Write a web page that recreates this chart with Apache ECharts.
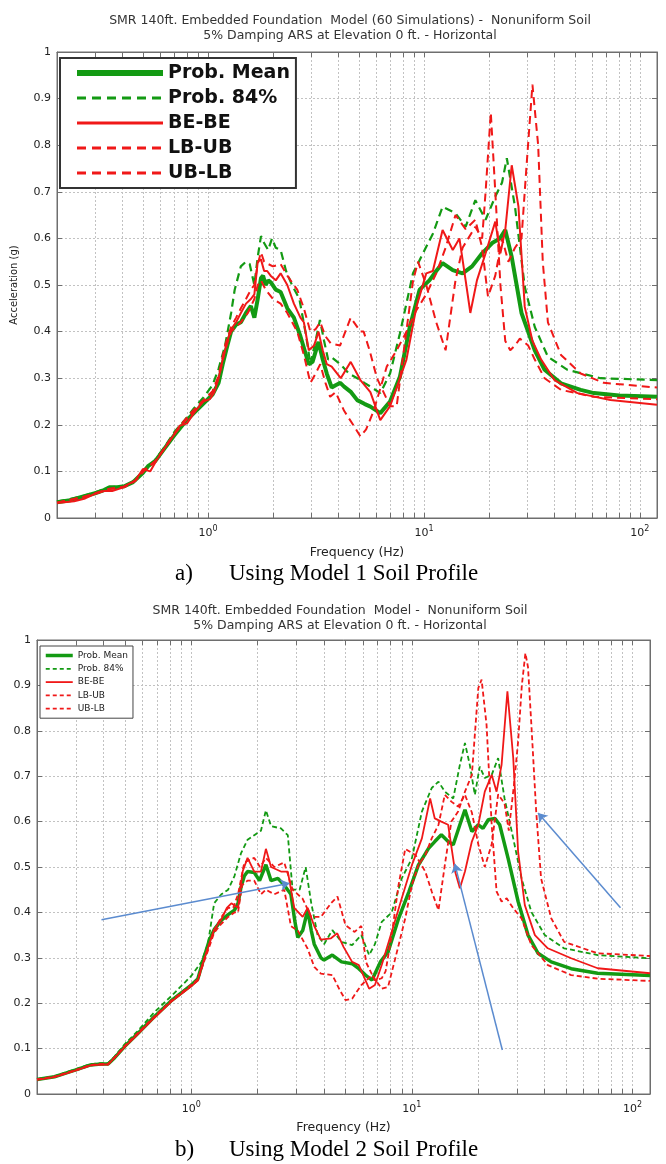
<!DOCTYPE html>
<html>
<head>
<meta charset="utf-8">
<script src="https://cdn.jsdelivr.net/npm/echarts@6/dist/echarts.min.js"></script>
<style>
  html, body { margin: 0; padding: 0; background: #fff; }
  #chart { width: 666px; height: 1164px; }
</style>
</head>
<body>
<div id="chart"></div>
<script>
// ---- Response spectra, Model 1 soil profile: [frequency Hz, acceleration g] ----
const meanA = [[0.2,0.034],[0.23,0.038],[0.26,0.045],[0.3,0.053],[0.33,0.06],[0.35,0.066],[0.38,0.066],[0.41,0.068],[0.45,0.077],[0.5,0.097],[0.53,0.112],[0.57,0.122],[0.62,0.145],[0.7,0.178],[0.78,0.205],[0.86,0.225],[0.95,0.245],[1.05,0.265],[1.12,0.29],[1.17,0.33],[1.23,0.37],[1.28,0.4],[1.35,0.415],[1.42,0.42],[1.5,0.44],[1.58,0.455],[1.64,0.43],[1.7,0.47],[1.76,0.515],[1.8,0.52],[1.85,0.5],[1.9,0.51],[1.96,0.505],[2.06,0.49],[2.17,0.485],[2.33,0.45],[2.5,0.43],[2.68,0.39],[2.93,0.33],[3.05,0.335],[3.25,0.378],[3.4,0.34],[3.55,0.31],[3.74,0.28],[3.9,0.285],[4.1,0.29],[4.27,0.282],[4.6,0.27],[4.91,0.253],[5.3,0.245],[5.65,0.239],[6.28,0.225],[6.97,0.25],[7.74,0.303],[8.6,0.41],[9.55,0.49],[10.6,0.51],[11.4,0.53],[12.2,0.547],[13.6,0.532],[15.1,0.525],[16.7,0.54],[18.6,0.568],[20.7,0.59],[22.5,0.6],[23.8,0.618],[25.5,0.56],[28.3,0.44],[32.6,0.36],[36.2,0.318],[43.1,0.289],[53.2,0.275],[61.2,0.268],[80,0.263],[120,0.26]];
const p84A = [[0.2,0.035],[0.26,0.046],[0.3,0.055],[0.35,0.066],[0.41,0.068],[0.46,0.08],[0.51,0.105],[0.57,0.125],[0.62,0.148],[0.7,0.185],[0.78,0.21],[0.86,0.235],[0.95,0.258],[1.05,0.285],[1.12,0.32],[1.2,0.37],[1.28,0.44],[1.33,0.49],[1.42,0.54],[1.5,0.55],[1.56,0.545],[1.64,0.5],[1.7,0.56],[1.76,0.605],[1.82,0.59],[1.9,0.575],[1.98,0.6],[2.06,0.58],[2.17,0.575],[2.3,0.53],[2.45,0.5],[2.65,0.47],[2.85,0.39],[2.98,0.33],[3.15,0.38],[3.3,0.425],[3.45,0.38],[3.6,0.34],[3.74,0.345],[4.1,0.33],[4.5,0.31],[4.91,0.3],[5.3,0.29],[5.65,0.282],[6.28,0.268],[6.97,0.31],[7.74,0.396],[8.9,0.525],[9.9,0.568],[11.0,0.61],[12.2,0.668],[14.0,0.654],[15.6,0.625],[17.3,0.682],[19.3,0.64],[21.4,0.69],[23.0,0.72],[24.2,0.772],[26.4,0.668],[29.3,0.496],[32.6,0.41],[37.5,0.346],[46.2,0.318],[65.7,0.3],[120,0.296]];
const beA = [[0.2,0.032],[0.24,0.036],[0.27,0.042],[0.3,0.052],[0.33,0.058],[0.36,0.058],[0.4,0.065],[0.46,0.08],[0.5,0.105],[0.54,0.1],[0.58,0.125],[0.62,0.145],[0.7,0.18],[0.74,0.198],[0.8,0.203],[0.86,0.225],[0.95,0.25],[1.02,0.255],[1.07,0.27],[1.12,0.3],[1.17,0.34],[1.23,0.38],[1.28,0.405],[1.35,0.42],[1.42,0.44],[1.5,0.46],[1.58,0.47],[1.64,0.48],[1.7,0.55],[1.76,0.555],[1.82,0.53],[1.88,0.53],[1.95,0.52],[2.06,0.51],[2.17,0.525],[2.33,0.5],[2.5,0.46],[2.68,0.43],[2.78,0.42],[2.93,0.36],[3.1,0.37],[3.25,0.4],[3.4,0.36],[3.55,0.33],[3.74,0.325],[4.12,0.3],[4.58,0.335],[5.08,0.296],[5.65,0.27],[6.28,0.21],[6.97,0.24],[7.48,0.28],[8.3,0.34],[9.23,0.453],[10.25,0.525],[11.0,0.53],[12.2,0.618],[13.6,0.575],[14.6,0.6],[15.6,0.51],[16.4,0.44],[17.6,0.51],[19.3,0.568],[21.4,0.636],[22.6,0.568],[23.8,0.618],[25.5,0.757],[27.4,0.668],[29.3,0.453],[31.8,0.38],[34.9,0.34],[40.2,0.296],[51.4,0.268],[73,0.253],[120,0.243]];
const lbubA = [[0.2,0.033],[0.26,0.044],[0.3,0.053],[0.35,0.063],[0.41,0.067],[0.46,0.08],[0.51,0.104],[0.57,0.122],[0.62,0.146],[0.7,0.182],[0.78,0.21],[0.86,0.232],[0.95,0.252],[1.05,0.272],[1.12,0.305],[1.2,0.37],[1.28,0.41],[1.35,0.43],[1.42,0.45],[1.5,0.47],[1.58,0.49],[1.64,0.5],[1.7,0.545],[1.76,0.57],[1.82,0.55],[1.9,0.545],[2.0,0.54],[2.17,0.545],[2.33,0.52],[2.59,0.49],[2.78,0.45],[2.98,0.4],[3.15,0.405],[3.31,0.42],[3.5,0.39],[3.7,0.375],[4.09,0.37],[4.58,0.43],[5.08,0.4],[5.26,0.4],[5.6,0.36],[6.06,0.3],[6.5,0.27],[6.97,0.24],[7.48,0.24],[8.02,0.35],[8.91,0.51],[9.39,0.55],[10.25,0.5],[11.4,0.42],[12.6,0.36],[14.0,0.51],[15.1,0.58],[17.3,0.625],[18.6,0.6],[19.3,0.7],[20.4,0.87],[21.4,0.7],[22.6,0.5],[23.8,0.38],[25.1,0.36],[26.4,0.37],[27.8,0.385],[30.4,0.37],[32.6,0.34],[36.2,0.3],[43.1,0.275],[61.2,0.26],[120,0.255]];
const ublbA = [[0.2,0.033],[0.26,0.044],[0.3,0.052],[0.35,0.062],[0.41,0.066],[0.46,0.079],[0.51,0.103],[0.57,0.121],[0.62,0.145],[0.7,0.18],[0.78,0.207],[0.86,0.228],[0.95,0.25],[1.05,0.27],[1.12,0.3],[1.2,0.36],[1.28,0.4],[1.35,0.41],[1.42,0.42],[1.53,0.44],[1.64,0.47],[1.7,0.5],[1.76,0.51],[1.85,0.49],[2.0,0.47],[2.17,0.46],[2.33,0.44],[2.59,0.4],[2.78,0.35],[2.98,0.29],[3.15,0.31],[3.31,0.33],[3.5,0.29],[3.68,0.26],[3.9,0.27],[4.27,0.23],[4.7,0.2],[5.08,0.175],[5.4,0.19],[5.85,0.23],[6.3,0.28],[6.73,0.325],[7.48,0.36],[8.3,0.4],[9.23,0.446],[10.25,0.48],[11.4,0.525],[12.6,0.58],[14.0,0.65],[15.6,0.62],[17.3,0.64],[18.6,0.58],[19.8,0.475],[21.4,0.52],[23.0,0.6],[24.6,0.55],[26.4,0.58],[28.3,0.6],[29.8,0.75],[31.8,0.93],[33.8,0.8],[35.5,0.55],[37.5,0.42],[43.1,0.35],[53.2,0.31],[68,0.29],[120,0.28]];

// ---- Response spectra, Model 2 soil profile ----
const meanB = [[0.2,0.032],[0.24,0.038],[0.27,0.046],[0.3,0.053],[0.35,0.064],[0.39,0.066],[0.42,0.066],[0.45,0.08],[0.5,0.105],[0.57,0.132],[0.68,0.17],[0.81,0.205],[1.0,0.24],[1.07,0.253],[1.15,0.305],[1.21,0.34],[1.27,0.362],[1.37,0.383],[1.47,0.395],[1.57,0.405],[1.63,0.42],[1.68,0.455],[1.74,0.48],[1.8,0.49],[1.93,0.488],[2.04,0.47],[2.18,0.505],[2.3,0.47],[2.47,0.475],[2.64,0.46],[2.83,0.44],[2.95,0.38],[3.04,0.345],[3.2,0.36],[3.37,0.405],[3.5,0.36],[3.61,0.33],[3.87,0.3],[4.0,0.295],[4.36,0.306],[4.8,0.291],[5.36,0.287],[5.75,0.276],[6.16,0.262],[6.6,0.251],[7.2,0.291],[7.8,0.313],[8.71,0.387],[9.7,0.446],[10.7,0.504],[11.9,0.541],[12.7,0.556],[13.6,0.571],[14.6,0.556],[15.4,0.549],[16.5,0.593],[17.4,0.626],[18.7,0.578],[20.0,0.593],[21.0,0.585],[22.2,0.604],[23.8,0.607],[25.0,0.593],[27.3,0.519],[30.3,0.424],[33.6,0.35],[37.3,0.31],[42.8,0.291],[52.7,0.276],[69.5,0.266],[120,0.261]];
const p84B = [[0.2,0.033],[0.24,0.039],[0.3,0.055],[0.35,0.066],[0.39,0.068],[0.42,0.068],[0.45,0.083],[0.5,0.11],[0.57,0.138],[0.68,0.18],[0.81,0.215],[1.0,0.26],[1.11,0.29],[1.19,0.33],[1.27,0.42],[1.37,0.44],[1.47,0.45],[1.57,0.48],[1.68,0.53],[1.8,0.56],[1.93,0.57],[2.07,0.58],[2.18,0.625],[2.3,0.59],[2.55,0.585],[2.74,0.57],[2.88,0.45],[3.1,0.45],[3.3,0.5],[3.5,0.42],[3.74,0.35],[4.0,0.33],[4.36,0.361],[4.8,0.335],[5.36,0.328],[5.9,0.35],[6.4,0.306],[6.8,0.33],[7.3,0.379],[8.1,0.4],[9.0,0.475],[10.0,0.519],[11.1,0.622],[12.3,0.674],[13.2,0.688],[14.1,0.666],[15.4,0.651],[16.5,0.725],[17.4,0.773],[18.3,0.725],[19.3,0.659],[20.3,0.721],[21.4,0.696],[23.0,0.703],[24.6,0.74],[26.3,0.651],[28.8,0.563],[31.4,0.475],[34.8,0.401],[40,0.35],[48.9,0.321],[69.5,0.306],[120,0.299]];
const beB = [[0.2,0.031],[0.24,0.037],[0.3,0.052],[0.35,0.063],[0.39,0.065],[0.42,0.065],[0.45,0.08],[0.5,0.104],[0.57,0.131],[0.68,0.168],[0.81,0.203],[1.0,0.237],[1.07,0.25],[1.15,0.3],[1.27,0.362],[1.37,0.385],[1.45,0.41],[1.52,0.42],[1.63,0.41],[1.71,0.49],[1.8,0.52],[1.93,0.49],[2.07,0.49],[2.18,0.54],[2.3,0.5],[2.55,0.49],[2.74,0.49],[2.93,0.41],[3.2,0.39],[3.37,0.41],[3.61,0.37],[3.87,0.34],[4.3,0.343],[4.59,0.354],[4.9,0.324],[5.36,0.291],[5.75,0.284],[6.4,0.232],[6.8,0.24],[7.3,0.284],[8.1,0.357],[9.0,0.431],[10,0.504],[11.1,0.563],[12.1,0.651],[12.7,0.607],[13.6,0.6],[14.6,0.593],[15.7,0.49],[16.5,0.453],[17.4,0.49],[18.7,0.556],[20,0.593],[21.4,0.666],[23,0.703],[24.2,0.666],[25.5,0.725],[27.1,0.887],[28.8,0.74],[30.3,0.534],[32.5,0.416],[36.1,0.35],[41.3,0.321],[52.7,0.299],[69.5,0.277],[120,0.266]];
const lbubB = [[0.2,0.032],[0.24,0.038],[0.3,0.053],[0.35,0.064],[0.39,0.066],[0.42,0.066],[0.45,0.081],[0.5,0.106],[0.57,0.133],[0.68,0.17],[0.81,0.205],[1.0,0.24],[1.07,0.252],[1.15,0.3],[1.27,0.36],[1.37,0.39],[1.47,0.41],[1.55,0.41],[1.63,0.44],[1.74,0.51],[1.93,0.52],[2.05,0.5],[2.18,0.52],[2.38,0.5],[2.64,0.51],[2.88,0.45],[3.2,0.43],[3.5,0.39],[3.87,0.39],[4.3,0.42],[4.6,0.435],[5.0,0.372],[5.5,0.357],[5.9,0.37],[6.2,0.29],[6.8,0.25],[7.3,0.255],[7.6,0.27],[8.1,0.35],[8.7,0.46],[9.33,0.54],[10.4,0.526],[11.5,0.49],[12.3,0.446],[13.2,0.405],[14.1,0.504],[15.1,0.6],[16.2,0.622],[17.4,0.666],[18.7,0.703],[20.0,0.894],[20.7,0.913],[21.8,0.813],[23.0,0.593],[24.2,0.446],[25.5,0.424],[26.9,0.431],[28.8,0.409],[31.4,0.387],[34.8,0.328],[41.3,0.284],[52.7,0.262],[69.5,0.254],[120,0.249]];
const ublbB = [[0.2,0.032],[0.24,0.038],[0.3,0.052],[0.35,0.063],[0.39,0.065],[0.42,0.065],[0.45,0.08],[0.5,0.105],[0.57,0.132],[0.68,0.169],[0.81,0.204],[1.0,0.238],[1.07,0.25],[1.15,0.295],[1.27,0.355],[1.37,0.375],[1.47,0.39],[1.57,0.4],[1.63,0.4],[1.7,0.46],[1.8,0.47],[1.93,0.47],[2.07,0.44],[2.18,0.45],[2.38,0.44],[2.64,0.45],[2.83,0.37],[3.04,0.36],[3.37,0.32],[3.61,0.28],[3.87,0.265],[4.36,0.262],[4.7,0.23],[5.0,0.207],[5.36,0.21],[5.9,0.24],[6.6,0.262],[7.3,0.232],[7.8,0.236],[8.71,0.328],[9.33,0.387],[10.0,0.46],[10.7,0.504],[11.5,0.526],[12.3,0.563],[13.2,0.593],[14.1,0.659],[15.1,0.644],[16.2,0.633],[17.4,0.659],[18.7,0.62],[20.0,0.55],[21.4,0.5],[23.0,0.55],[24.6,0.66],[26.3,0.64],[27.5,0.58],[29.0,0.68],[30.3,0.776],[31.5,0.9],[32.7,0.971],[33.6,0.94],[34.8,0.813],[36.6,0.622],[38.5,0.475],[42.8,0.387],[49,0.335],[69.5,0.31],[120,0.304]];

// Annotation arrows on the Model 2 plot: [tail, head] in [Hz, g]
const arrowsB = [
  [[0.392, 0.384], [2.79, 0.464]],
  [[25.7, 0.097], [15.65, 0.507]],
  [[88.2, 0.41], [37.3, 0.619]]
];

// Axis ticks
const seriesNames = ['Prob. Mean', 'Prob. 84%', 'BE-BE', 'LB-UB', 'UB-LB'];
const gridFreqs = [0.3,0.4,0.5,0.6,0.7,0.8,0.9,1,2,3,4,5,6,7,8,9,10,20,30,40,50,60,70,80,90,100];
const decadeFreqs = [1, 10, 100];
const freqRange = [0.2, 120];

const titleA = ['SMR 140ft. Embedded Foundation  Model (60 Simulations) -  Nonuniform Soil',
                '5% Damping ARS at Elevation 0 ft. - Horizontal'];
const titleB = ['SMR 140ft. Embedded Foundation  Model -  Nonuniform Soil',
                '5% Damping ARS at Elevation 0 ft. - Horizontal'];
const captions = [['a)', 'Using Model 1 Soil Profile'], ['b)', 'Using Model 2 Soil Profile']];

const GREEN = '#139a13';
const RED = '#f01818';
const AXIS = '#6e6e6e';
const GRIDC = '#c2c2c2';
const FONT = 'DejaVu Sans';

const gridsBox = [
  { left: 57, top: 52, width: 600, height: 466 },
  { left: 37, top: 640, width: 613, height: 454 }
];

function xAxesFor(gi, nameGap) {
  const base = {
    gridIndex: gi, type: 'log', logBase: 10,
    min: freqRange[0], max: freqRange[1],
    axisLine: { show: true, onZero: false, lineStyle: { color: AXIS, width: 1 } },
    axisTick: { show: true, inside: true, length: 5, customValues: gridFreqs, lineStyle: { color: AXIS } },
    minorTick: { show: false },
    minorSplitLine: { show: false }
  };
  return [
    Object.assign({}, base, {
      position: 'bottom',
      splitLine: { show: true, lineStyle: { color: GRIDC, type: [2, 2], width: 1 } },
      axisLabel: {
        customValues: decadeFreqs, margin: 7,
        formatter: v => '{b|10}{s|' + Math.round(Math.log10(v)) + '}',
        rich: {
          b: { fontFamily: FONT, fontSize: 11, color: '#222', lineHeight: 16 },
          s: { fontFamily: FONT, fontSize: 8, color: '#222', lineHeight: 8, verticalAlign: 'top' }
        }
      },
      name: 'Frequency (Hz)', nameLocation: 'middle', nameGap: nameGap,
      nameTextStyle: { fontFamily: FONT, fontSize: 12.5, color: '#222' }
    }),
    Object.assign({}, base, {
      position: 'top',
      splitLine: { show: false },
      axisLabel: { show: false }
    })
  ];
}

function yAxesFor(gi, withName) {
  const base = {
    gridIndex: gi, type: 'value', min: 0, max: 1, interval: 0.1,
    axisLine: { show: true, onZero: false, lineStyle: { color: AXIS, width: 1 } },
    axisTick: { show: true, inside: true, length: 5, lineStyle: { color: AXIS } }
  };
  const left = Object.assign({}, base, {
    position: 'left',
    splitLine: { show: true, lineStyle: { color: GRIDC, type: [2, 2], width: 1 } },
    axisLabel: { fontFamily: FONT, fontSize: 11, color: '#222', margin: 6 }
  });
  if (withName) {
    Object.assign(left, {
      name: 'Acceleration (g)', nameLocation: 'middle', nameGap: 38,
      nameTextStyle: { fontFamily: FONT, fontSize: 10, color: '#222' }
    });
  }
  return [left, Object.assign({}, base, {
    position: 'right', splitLine: { show: false }, axisLabel: { show: false }
  })];
}

function lineSeries(gi, name, data, color, width, dash) {
  return {
    type: 'line', name: name, data: data,
    xAxisIndex: gi * 2, yAxisIndex: gi * 2,
    symbol: 'none', showSymbol: false, clip: true,
    lineStyle: { color: color, width: width, type: dash || 'solid' },
    itemStyle: { color: color },
    emphasis: { disabled: true },
    animation: false
  };
}

const dashA = [8, 5];
const dashB = [5, 3];

const series = [
  lineSeries(0, seriesNames[0], meanA, GREEN, 4),
  lineSeries(0, seriesNames[1], p84A, GREEN, 2.2, dashA),
  lineSeries(0, seriesNames[2], beA, RED, 2),
  lineSeries(0, seriesNames[3], lbubA, RED, 2, dashA),
  lineSeries(0, seriesNames[4], ublbA, RED, 2, dashA),
  lineSeries(1, seriesNames[0], meanB, GREEN, 3.5),
  lineSeries(1, seriesNames[1], p84B, GREEN, 1.8, dashB),
  lineSeries(1, seriesNames[2], beB, RED, 1.8),
  lineSeries(1, seriesNames[3], lbubB, RED, 1.8, dashB),
  lineSeries(1, seriesNames[4], ublbB, RED, 1.8, dashB)
];

// blue annotation arrows on the second plot
series[5].markLine = {
  silent: true, animation: false,
  symbol: ['none', 'arrow'], symbolSize: 9,
  label: { show: false },
  lineStyle: { color: '#5b8bcf', width: 1.5, type: 'solid' },
  itemStyle: { color: '#5b8bcf' },
  emphasis: { disabled: true },
  data: arrowsB.map(a => [{ coord: a[0] }, { coord: a[1] }])
};

function legendData(widths, dash) {
  return seriesNames.map((n, i) => ({
    name: n,
    lineStyle: { width: widths[i], type: (i === 1 || i >= 3) ? dash : 'solid' }
  }));
}

const legends = [
  {
    left: 60, top: 58, orient: 'vertical', selectedMode: false,
    data: legendData([6, 3, 3, 3, 3], [9, 6]),
    itemWidth: 86, itemHeight: 14, itemGap: 5,
    padding: [5, 6, 5, 14],
    borderColor: '#333', borderWidth: 2, backgroundColor: '#fff',
    itemStyle: { opacity: 0 },
    textStyle: { fontFamily: FONT, fontWeight: 'bold', fontSize: 19, color: '#111', lineHeight: 20 }
  },
  {
    left: 40, top: 646, orient: 'vertical', selectedMode: false,
    data: legendData([3.5, 1.8, 1.8, 1.8, 1.8], [4, 3]),
    itemWidth: 27, itemHeight: 8, itemGap: 2.3,
    padding: [4, 5, 4, 4],
    borderColor: '#444', borderWidth: 1, backgroundColor: '#fff',
    itemStyle: { opacity: 0 },
    textStyle: { fontFamily: FONT, fontSize: 9, color: '#222', lineHeight: 11 }
  }
];

function textEl(x, y, text, font, fill, align) {
  return {
    type: 'text', x: x, y: y, silent: true,
    style: {
      text: text, font: font, fill: fill,
      align: align || 'center', verticalAlign: 'middle',
      textAlign: align || 'center', textVerticalAlign: 'middle'
    }
  };
}

const titleFont = '12.5px "DejaVu Sans"';
const capFont = '23px "Liberation Serif"';
const graphics = [
  textEl(350, 20.5, titleA[0], titleFont, '#333'),
  textEl(350, 35.5, titleA[1], titleFont, '#333'),
  textEl(340, 611, titleB[0], titleFont, '#333'),
  textEl(340, 626, titleB[1], titleFont, '#333'),
  textEl(175, 574, captions[0][0], capFont, '#000', 'left'),
  textEl(229, 574, captions[0][1], capFont, '#000', 'left'),
  textEl(175, 1150, captions[1][0], capFont, '#000', 'left'),
  textEl(229, 1150, captions[1][1], capFont, '#000', 'left')
];

const option = {
  animation: false,
  backgroundColor: '#fff',
  grid: gridsBox.map(g => Object.assign({ show: true, borderColor: AXIS, borderWidth: 1, backgroundColor: 'transparent' }, g)),
  xAxis: xAxesFor(0, 28).concat(xAxesFor(1, 27)),
  yAxis: yAxesFor(0, true).concat(yAxesFor(1, false)),
  legend: legends,
  series: series,
  graphic: graphics
};

const chart = echarts.init(document.getElementById('chart'));
chart.setOption(option);
</script>
</body>
</html>
